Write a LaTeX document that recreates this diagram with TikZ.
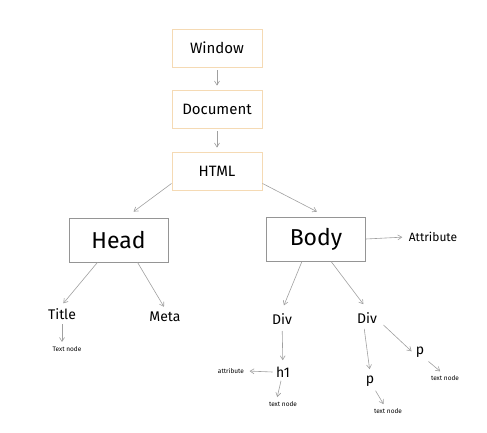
\documentclass[tikz,border=0pt]{standalone}
\usepackage{fontspec}
\setmainfont{Fira Sans}
\usepackage{tikz}
\usetikzlibrary{arrows.meta}

\definecolor{boxorange}{HTML}{F5DAB4}
\definecolor{boxgray}{HTML}{959595}
\definecolor{arrgray}{HTML}{A0A0A0}

\begin{document}
\begin{tikzpicture}[x=1pt, y=-1pt,
        top/.style={draw=boxorange, line width=0.9pt, minimum width=90pt, minimum height=38pt, font=\fontsize{15}{17}\selectfont},
        big/.style={draw=boxgray, line width=0.7pt, minimum width=99pt, minimum height=44pt, font=\fontsize{23}{25}\selectfont},
        mid/.style={font=\fontsize{14}{16}\selectfont},
        tiny/.style={font=\fontsize{6.5}{8}\selectfont},
        arr/.style={draw=arrgray, line width=0.6pt, -{Straight Barb[length=4pt,width=5pt]}}]
    \useasboundingbox (0,0) rectangle (487,432);
    % top chain
    \node[top] (win) at (217,48) {Window};
    \node[top] (doc) at (217,109) {Document};
    \node[top] (html) at (217,171) {HTML};
    % head and body
    \node[big] (head) at (118.5,240) {Head};
    \node[big] (body) at (316,239) {Body};
    \node[font=\fontsize{12}{14}\selectfont] (attr) at (433,237) {Attribute};
    % children of head
    \node[mid] (title) at (62,314) {Title};
    \node[mid] (meta) at (165,317) {Meta};
    \node[tiny] (titletxt) at (67,349) {Text node};
    % children of body
    \node[mid] (diva) at (282,319) {Div};
    \node[mid] (divb) at (367,318) {Div};
    \node[mid] (hone) at (283,372) {h1};
    \node[tiny] (hattr) at (231,371) {attribute};
    \node[tiny] (htxt) at (283,404) {text node};
    \node[mid] (pa) at (370,381) {p};
    \node[tiny] (patxt) at (388,411) {text node};
    \node[mid] (pb) at (420,352) {p};
    \node[tiny] (pbtxt) at (445,378) {text node};

    \draw[arr, shorten <=3pt, shorten >=4pt] (win) -- (doc);
    \draw[arr, shorten <=3pt, shorten >=4pt] (doc) -- (html);
    \draw[arr] ([yshift=7pt]html.south west) -- ([xshift=15pt,yshift=6pt]head.north);
    \draw[arr] ([yshift=7pt]html.south east) -- ([xshift=1pt,yshift=5pt]body.north);
    \draw[arr, shorten >=3pt] (body.east) -- (attr.west);
    \draw[arr, shorten >=2pt] ([xshift=-21pt]head.south) -- (title.north);
    \draw[arr, shorten >=2pt] ([xshift=19pt]head.south) -- (meta.north);
    \draw[arr, shorten <=1pt, shorten >=1pt] (title) -- (titletxt.north -| title);
    \draw[arr, shorten >=5pt] ([xshift=-14pt]body.south) -- (diva.north);
    \draw[arr, shorten >=6pt] ([xshift=15pt]body.south) -- (divb.north);
    \draw[arr, shorten <=3pt, shorten >=3pt] (diva) -- (hone);
    \draw[arr, shorten >=2pt] (hone.west) -- (hattr.east);
    \draw[arr, shorten <=0pt, shorten >=1pt] ([xshift=-2pt]hone.south) -- ([xshift=-6pt]htxt.north);
    \draw[arr, shorten <=2pt, shorten >=3pt] ([xshift=-3pt]divb.south) -- (pa.north);
    \draw[arr, shorten <=1pt, shorten >=1pt] ([xshift=5pt]pa.south) -- ([xshift=-4pt]patxt.north);
    \draw[arr, shorten >=1pt] ([xshift=3pt,yshift=2pt]divb.south east) -- (pb.west);
    \draw[arr, shorten <=1pt, shorten >=1pt] (pb.south east) -- ([xshift=-4pt]pbtxt.north);
\end{tikzpicture}
\end{document}
